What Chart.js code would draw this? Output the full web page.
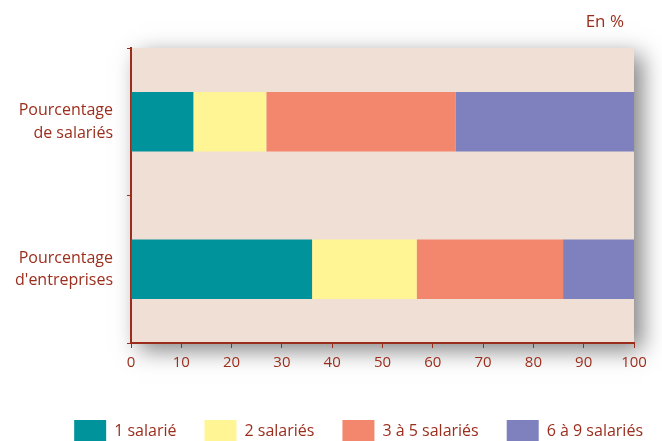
<!DOCTYPE html>
<html lang="fr">
<head>
<meta charset="utf-8">
<script src="https://cdn.jsdelivr.net/npm/chart.js@4/dist/chart.umd.min.js"></script>
<style>
  html, body { margin: 0; padding: 0; background: #fff; overflow: hidden; }
  #wrap { width: 662px; height: 452px; position: relative; }
</style>
</head>
<body>
<div id="wrap"><canvas id="chart"></canvas></div>
<script>
// categories (two-line labels)
const categories = [["Pourcentage", "de salariés"], ["Pourcentage", "d'entreprises"]];
const seriesNames = ["1 salarié", "2 salariés", "3 à 5 salariés", "6 à 9 salariés"];
const oneSalarie = [12.4, 36.0];
const twoSalaries = [14.5, 20.8];
const threeToFive = [37.6, 29.1];
const sixToNine = [35.5, 14.1];
const xTicks = [0, 10, 20, 30, 40, 50, 60, 70, 80, 90, 100];

const COLORS = ["#00939b", "#fff594", "#f3876e", "#7e81be"];
const RED = "#9b2d1c";
const BG = "#f0dfd5";
const FONT = "'Open Sans', 'Noto Sans', sans-serif";
const LEGEND_PAD = 28;

// panel background + drop shadow behind the plot area
const panelPlugin = {
  id: "panel",
  afterLayout(chart){
    // push the legend row a bit to the right, like the original
    if (chart.legend) chart.legend.right = chart.chartArea.right + 9 + LEGEND_PAD;
  },
  beforeDraw(chart){
    const { ctx, chartArea: a } = chart;
    ctx.save();
    ctx.shadowColor = "rgba(0,0,0,0.5)";
    ctx.shadowBlur = 22;
    ctx.shadowOffsetX = 8;
    ctx.shadowOffsetY = 7;
    ctx.fillStyle = BG;
    ctx.fillRect(a.left, a.top, a.right - a.left, a.bottom - a.top);
    ctx.restore();
  },
  afterDraw(chart){
    const { ctx, chartArea: a } = chart;
    ctx.save();
    ctx.fillStyle = RED;
    ctx.font = "17px " + FONT;
    ctx.textAlign = "right";
    ctx.textBaseline = "middle";
    ctx.fillText("En %", a.right - 10, 22);
    ctx.restore();
  }
};

const seriesData = [oneSalarie, twoSalaries, threeToFive, sixToNine];

new Chart(document.getElementById("chart"), {
  type: "bar",
  data: {
    labels: categories,
    datasets: seriesNames.map((name, i) => ({
      label: name,
      data: seriesData[i],
      backgroundColor: COLORS[i],
      borderWidth: 0,
      categoryPercentage: 1,
      barPercentage: 0.405
    }))
  },
  options: {
    indexAxis: "y",
    responsive: true,
    maintainAspectRatio: false,
    animation: false,
    layout: { padding: { left: 0, right: 28, top: 48, bottom: 0 } },
    scales: {
      x: {
        stacked: true,
        min: 0, max: 100,
        afterBuildTicks(axis){ axis.ticks = xTicks.map(v => ({ value: v })); },
        afterFit(axis){ axis.height = 49; },
        grid: { drawOnChartArea: false, color: RED, tickLength: 5, lineWidth: 1 },
        border: { color: RED, width: 2 },
        ticks: { color: RED, font: { family: FONT, size: 15 }, padding: 6, maxRotation: 0 }
      },
      y: {
        stacked: true,
        afterFit(axis){ axis.width = 131; },
        grid: { drawOnChartArea: false, color: RED, tickLength: 4, offset: true },
        border: { color: RED, width: 2 },
        ticks: { color: RED, font: { family: FONT, size: 16, lineHeight: 1.4 }, padding: 14 }
      }
    },
    plugins: {
      legend: {
        position: "bottom",
        align: "end",
        labels: {
          color: RED,
          font: { family: FONT, size: 16 },
          boxWidth: 32,
          boxHeight: 22,
          padding: LEGEND_PAD
        }
      },
      tooltip: { enabled: false }
    }
  },
  plugins: [panelPlugin]
});
</script>
</body>
</html>
